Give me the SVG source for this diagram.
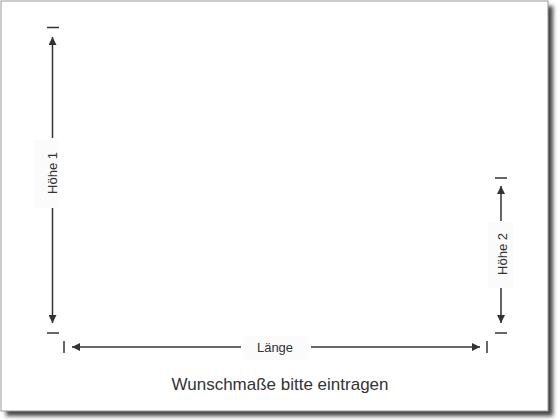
<svg xmlns="http://www.w3.org/2000/svg" width="560" height="420" viewBox="0 0 560 420">
  <defs>
    <filter id="shadow" x="-5%" y="-5%" width="115%" height="115%">
      <feGaussianBlur stdDeviation="2"/>
    </filter>
    <marker id="arrow" viewBox="0 0 10 10" refX="10" refY="5" markerWidth="8" markerHeight="8" markerUnits="userSpaceOnUse" orient="auto">
      <path d="M0,0 L10,5 L0,10 z" fill="#333"/>
    </marker>
    <style>
      .dim { stroke: #333; stroke-width: 1.5; fill: none; }
      .tick { stroke: #333; stroke-width: 1.5; }
      .lbl { font-family: "Liberation Sans", Arial, sans-serif; font-size: 13px; fill: #333; text-anchor: middle; }
      .lblbg { fill: #fbfbfb; }
      .title { font-family: "Liberation Sans", Arial, sans-serif; font-size: 17px; fill: #333; text-anchor: middle; }
    </style>
  </defs>

  <g id="frame">
    <rect x="6" y="6" width="547" height="410" fill="#444" filter="url(#shadow)"/>
    <rect x="1" y="1" width="547" height="410" fill="#fff" stroke="#999" stroke-width="1"/>
  </g>

  <g id="connectors">
    <!-- Höhe 1 -->
    <line class="tick" x1="47" y1="27.5" x2="59" y2="27.5"/>
    <line class="tick" x1="47" y1="333" x2="59" y2="333"/>
    <line class="dim" x1="52.5" y1="138" x2="52.5" y2="37" marker-end="url(#arrow)"/>
    <line class="dim" x1="52.5" y1="208" x2="52.5" y2="323" marker-end="url(#arrow)"/>
    <!-- Höhe 2 -->
    <line class="tick" x1="495" y1="178" x2="507" y2="178"/>
    <line class="tick" x1="495" y1="333" x2="507" y2="333"/>
    <line class="dim" x1="501" y1="221" x2="501" y2="186" marker-end="url(#arrow)"/>
    <line class="dim" x1="501" y1="288" x2="501" y2="323" marker-end="url(#arrow)"/>
    <!-- Länge -->
    <line class="tick" x1="64" y1="341" x2="64" y2="353"/>
    <line class="tick" x1="487" y1="341" x2="487" y2="353"/>
    <line class="dim" x1="241" y1="347" x2="72" y2="347" marker-end="url(#arrow)"/>
    <line class="dim" x1="311" y1="347" x2="480" y2="347" marker-end="url(#arrow)"/>
  </g>

  <g id="hoehe1">
    <rect class="lblbg" x="34" y="140" width="25" height="68"/>
    <text class="lbl" transform="translate(57 173) rotate(-90)">Höhe 1</text>
  </g>
  <g id="hoehe2">
    <rect class="lblbg" x="488" y="222" width="25" height="66"/>
    <text class="lbl" transform="translate(507 254) rotate(-90)">Höhe 2</text>
  </g>
  <g id="laenge">
    <rect class="lblbg" x="243" y="336" width="66" height="24"/>
    <text class="lbl" x="275" y="352">Länge</text>
  </g>
  <g id="title">
    <text class="title" x="280" y="390">Wunschmaße bitte eintragen</text>
  </g>
</svg>
